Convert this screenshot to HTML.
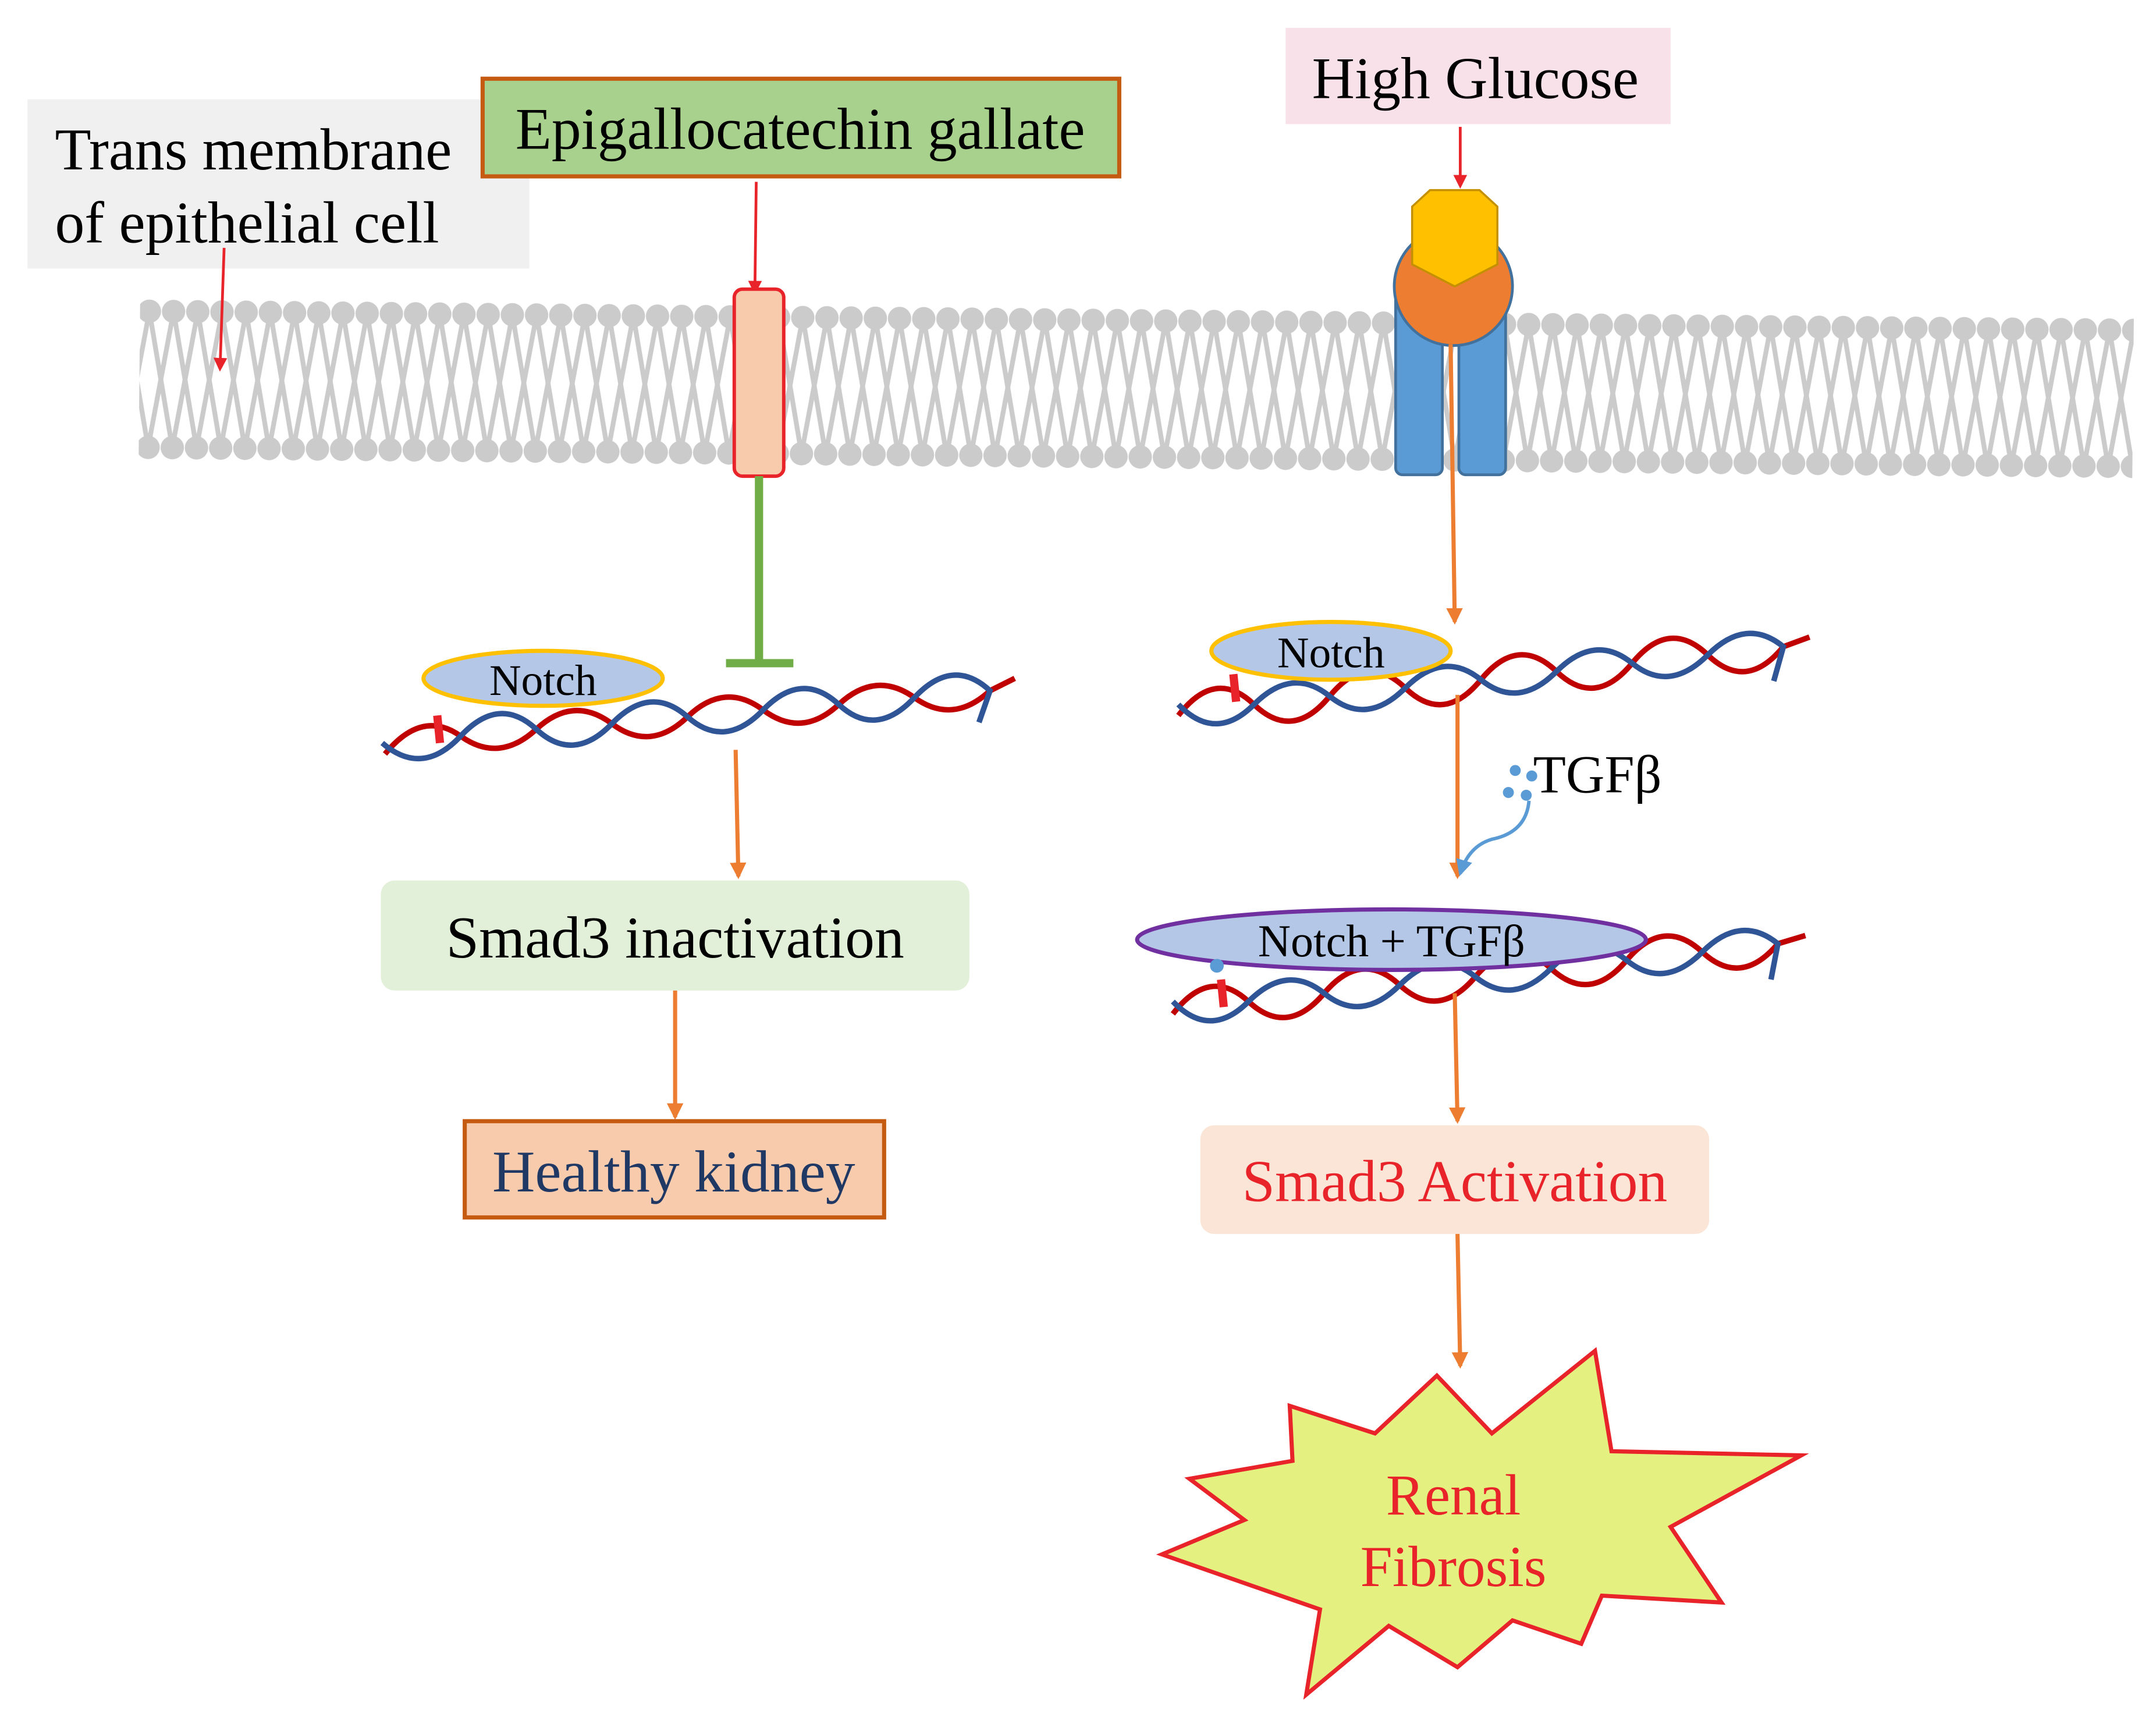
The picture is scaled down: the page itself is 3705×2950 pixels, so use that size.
<!DOCTYPE html>
<html><head><meta charset="utf-8"><style>
html,body{margin:0;padding:0;background:#fff;}
svg{display:block;}
text{font-family:"Liberation Serif",serif;}
</style></head><body>
<svg width="3705" height="2950" viewBox="0 0 1568 1248" xmlns="http://www.w3.org/2000/svg">
<defs>
<pattern id="lip" x="100" y="210" width="17.6" height="125" patternUnits="userSpaceOnUse">
<line x1="8.8" y1="16" x2="26.4" y2="115" stroke="#cbcbcb" stroke-width="3.5"/>
<line x1="-8.8" y1="16" x2="8.8" y2="115" stroke="#cbcbcb" stroke-width="3.5"/>
<line x1="8.8" y1="16" x2="-8.8" y2="115" stroke="#cbcbcb" stroke-width="3.5"/>
<line x1="26.4" y1="16" x2="8.8" y2="115" stroke="#cbcbcb" stroke-width="3.5"/>
<circle cx="8.8" cy="16" r="8.5" fill="#cbcbcb"/>
<circle cx="8.8" cy="115" r="8.5" fill="#cbcbcb"/>
</pattern>
<marker id="ar" markerWidth="10" markerHeight="10" refX="8" refY="5" orient="auto" markerUnits="userSpaceOnUse"><path d="M0,0 L10,5 L0,10 z" fill="#e8232a"/></marker>
<marker id="ao" markerWidth="12" markerHeight="12" refX="10" refY="6" orient="auto" markerUnits="userSpaceOnUse"><path d="M0,0 L12,6 L0,12 z" fill="#ed7d31"/></marker>
<marker id="ab" markerWidth="12" markerHeight="12" refX="10" refY="6" orient="auto" markerUnits="userSpaceOnUse"><path d="M0,0 L12,6 L0,12 z" fill="#5b9bd5"/></marker>
</defs>

<!-- membrane -->
<g transform="rotate(0.55 100 210)">
<rect x="102" y="210" width="1450" height="125" fill="url(#lip)"/>
</g>

<!-- trans membrane label -->
<rect x="20" y="72" width="365" height="123" fill="#f0f0f0"/>
<text x="40" y="123" font-size="43">Trans membrane</text>
<text x="40" y="176" font-size="43">of epithelial cell</text>
<line x1="163" y1="180" x2="160" y2="268" stroke="#e8232a" stroke-width="2" marker-end="url(#ar)"/>

<!-- EGCG -->
<rect x="351" y="57" width="463" height="71" fill="#a9d18e" stroke="#c55a11" stroke-width="3"/>
<text x="582" y="108" font-size="43" text-anchor="middle">Epigallocatechin gallate</text>
<line x1="550" y1="132" x2="549" y2="212" stroke="#e8232a" stroke-width="2" marker-end="url(#ar)"/>
<rect x="534" y="210" width="36" height="136" rx="6" fill="#f8cbad" stroke="#e8232a" stroke-width="2.5"/>
<line x1="552" y1="346" x2="552" y2="482" stroke="#70ad47" stroke-width="6"/>
<line x1="528" y1="482" x2="577" y2="482" stroke="#70ad47" stroke-width="6"/>

<!-- left DNA -->
<ellipse cx="395" cy="493" rx="87" ry="20" fill="#b4c7e7" stroke="#ffc000" stroke-width="3"/>
<text x="395" y="505" font-size="32" text-anchor="middle">Notch</text>
<path d="M280 548 Q307 515 335 535 T390 530 T445 526 T500 521 T555 516 T610 512 T665 507 T720 502 L738 493" fill="none" stroke="#c00000" stroke-width="4"/>
<path d="M278 540 Q307 565 335 535 T390 530 T445 526 T500 521 T555 516 T610 512 T665 507 T720 502 L712 525" fill="none" stroke="#2f5597" stroke-width="4"/>
<line x1="318" y1="520" x2="320" y2="540" stroke="#e8232a" stroke-width="6"/>
<line x1="535" y1="545" x2="537" y2="637" stroke="#ed7d31" stroke-width="3" marker-end="url(#ao)"/>

<rect x="277" y="640" width="428" height="80" rx="10" fill="#e2f0d9"/>
<text x="491" y="696" font-size="43" text-anchor="middle">Smad3 inactivation</text>
<line x1="491" y1="720" x2="491" y2="812" stroke="#ed7d31" stroke-width="3" marker-end="url(#ao)"/>
<rect x="338" y="815" width="305" height="70" fill="#f8cbad" stroke="#c55a11" stroke-width="3"/>
<text x="490" y="866" font-size="43" text-anchor="middle" fill="#1f3864">Healthy kidney</text>

<!-- High glucose -->
<rect x="935" y="20" width="280" height="70" fill="#f9e1ea"/>
<text x="1073" y="71" font-size="43" text-anchor="middle">High Glucose</text>
<line x1="1062" y1="92" x2="1062" y2="135" stroke="#e8232a" stroke-width="2" marker-end="url(#ar)"/>
<rect x="1015" y="210" width="34" height="135" rx="5" fill="#5b9bd5" stroke="#41719c" stroke-width="2"/>
<rect x="1061" y="210" width="34" height="135" rx="5" fill="#5b9bd5" stroke="#41719c" stroke-width="2"/>
<circle cx="1057" cy="208" r="43" fill="#ed7d31" stroke="#41719c" stroke-width="2"/>
<path d="M1027 150 L1040 138 L1076 138 L1089 150 L1089 192 L1058 208 L1027 192 Z" fill="#ffc000" stroke="#c59000" stroke-width="1.5"/>
<line x1="1055" y1="250" x2="1058" y2="452" stroke="#ed7d31" stroke-width="3" marker-end="url(#ao)"/>

<!-- right DNA 1 -->
<path d="M857 520 Q884 485 912 512 T967 506 T1022 500 T1077 494 T1132 488 T1187 482 T1242 476 T1297 470 L1316 463" fill="none" stroke="#c00000" stroke-width="4"/>
<path d="M857 512 Q884 540 912 512 T967 506 T1022 500 T1077 494 T1132 488 T1187 482 T1242 476 T1297 470 L1290 495" fill="none" stroke="#2f5597" stroke-width="4"/>
<ellipse cx="968" cy="473" rx="87" ry="21" fill="#b4c7e7" stroke="#ffc000" stroke-width="3"/>
<text x="968" y="485" font-size="32" text-anchor="middle">Notch</text>
<line x1="897" y1="490" x2="899" y2="510" stroke="#e8232a" stroke-width="6"/>
<line x1="1060" y1="505" x2="1060" y2="637" stroke="#ed7d31" stroke-width="3" marker-end="url(#ao)"/>

<!-- TGFb -->
<circle cx="1102" cy="560" r="4" fill="#5b9bd5"/><circle cx="1114" cy="564" r="4" fill="#5b9bd5"/>
<circle cx="1097" cy="576" r="4" fill="#5b9bd5"/><circle cx="1110" cy="578" r="4" fill="#5b9bd5"/>
<text x="1115" y="576" font-size="39">TGFβ</text>
<path d="M1112 582 Q1110 605 1085 610 Q1068 615 1062 635" fill="none" stroke="#5b9bd5" stroke-width="2.5" marker-end="url(#ab)"/>

<!-- right DNA 2 -->
<path d="M853 737 Q880 702 908 728 T963 722 T1018 716 T1073 710 T1128 704 T1183 698 T1238 692 T1293 686 L1313 680" fill="none" stroke="#c00000" stroke-width="4"/>
<path d="M853 728 Q880 756 908 728 T963 722 T1018 716 T1073 710 T1128 704 T1183 698 T1238 692 T1293 686 L1288 712" fill="none" stroke="#2f5597" stroke-width="4"/>
<ellipse cx="1012" cy="683" rx="185" ry="22" fill="#b4c7e7" stroke="#7030a0" stroke-width="3"/>
<text x="1012" y="695" font-size="33" text-anchor="middle">Notch + TGFβ</text>
<line x1="888" y1="712" x2="890" y2="732" stroke="#e8232a" stroke-width="6"/>
<circle cx="885" cy="702" r="5" fill="#5b9bd5"/>
<line x1="1058" y1="722" x2="1060" y2="815" stroke="#ed7d31" stroke-width="3" marker-end="url(#ao)"/>

<rect x="873" y="818" width="370" height="79" rx="10" fill="#fbe5d6"/>
<text x="1058" y="873" font-size="43" text-anchor="middle" fill="#e8232a">Smad3 Activation</text>
<line x1="1060" y1="897" x2="1062" y2="993" stroke="#ed7d31" stroke-width="3" marker-end="url(#ao)"/>

<!-- starburst -->
<polygon points="1045,1000 1085,1042 1160,982 1172,1055 1310,1058 1215,1110 1252,1165 1165,1160 1150,1195 1100,1178 1060,1212 1010,1182 950,1232 960,1170 845,1130 905,1105 865,1075 940,1062 938,1022 1000,1042" fill="#e4f07f" stroke="#e8232a" stroke-width="3"/>
<text x="1057" y="1101" font-size="42" text-anchor="middle" fill="#e8232a">Renal</text>
<text x="1057" y="1153" font-size="42" text-anchor="middle" fill="#e8232a">Fibrosis</text>
</svg>
</body></html>
